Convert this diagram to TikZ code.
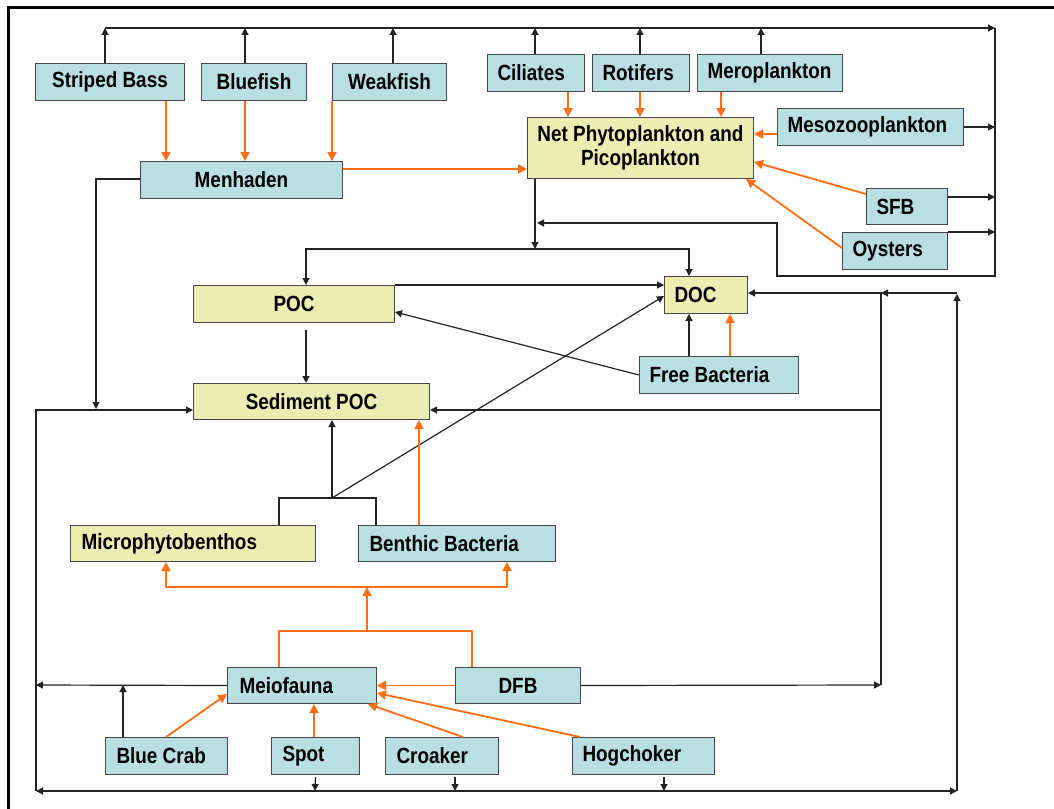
\documentclass[tikz,border=0pt]{standalone}
\usepackage{fontspec}
\newfontfamily\lab{Liberation Sans}[FakeStretch=0.86]
\usetikzlibrary{arrows.meta}
\newcommand\lbl[1]{\mbox{\spaceskip=0pt\xspaceskip=0pt\relax #1}}
\definecolor{lblue}{RGB}{185,223,227}
\definecolor{lyel}{RGB}{235,237,178}
\definecolor{bord}{RGB}{70,70,70}
\definecolor{orangeC}{RGB}{255,110,20}
\definecolor{lnc}{RGB}{35,35,35}
\begin{document}
\begin{tikzpicture}[x=1pt,y=-1pt,
  box/.style={draw=bord, line width=1pt, inner xsep=0pt, inner ysep=0pt, anchor=north west,
              font=\fontsize{22}{24}\lab\bfseries},
  bl/.style={box, fill=lblue},
  ye/.style={box, fill=lyel},
  blk/.style={draw=lnc, line width=1.2pt},
  arb/.style={blk, -{Triangle[length=7pt,width=7pt]}},
  lno/.style={draw=orangeC, line width=1.8pt, line join=round},
  aro/.style={lno, -{Triangle[length=9pt,width=9pt]}},
]
\useasboundingbox (0,0) rectangle (1054,808);
\fill[white] (0,0) rectangle (1054,808);
\draw[line width=3pt] (8,830) -- (8,8) -- (1080,8);

% nodes
\node[bl, minimum width=149pt, minimum height=37pt, align=center] (SB) at (35,63) {Striped Bass};
\node[bl, minimum width=105pt, minimum height=37pt, align=center] (BF) at (201,63) {Bluefish};
\node[bl, minimum width=114pt, minimum height=37pt, align=center] (WF) at (332,63) {Weakfish};
\node[bl, minimum width=202pt, minimum height=37pt, align=center] (MH) at (140,161) {Menhaden};
\node[bl, text width=77pt, inner xsep=10pt, align=left, minimum height=37pt] (CI) at (487,54) {\lbl{Ciliates}};
\node[bl, text width=77pt, inner xsep=10pt, align=left, minimum height=37pt] (RO) at (592,54) {\lbl{Rotifers}};
\node[bl, text width=125pt, inner xsep=10pt, align=left, minimum height=37pt] (ME) at (697,54) {\lbl{Meroplankton}};
\node[ye, minimum width=226pt, minimum height=61pt, align=center] (NP) at (527,117) {Net Phytoplankton and\\Picoplankton};
\node[bl, text width=166pt, inner xsep=10pt, align=left, minimum height=37pt] (MZ) at (777,108) {\lbl{Mesozooplankton}};
\node[bl, text width=61pt, inner xsep=10pt, align=left, minimum height=36pt] (SFB) at (866,188) {\lbl{SFB}};
\node[bl, text width=85pt, inner xsep=10pt, align=left, minimum height=37pt] (OY) at (842,232) {\lbl{Oysters}};
\node[ye, minimum width=201pt, minimum height=37pt, align=center] (POC) at (193,285) {POC};
\node[ye, text width=63pt, inner xsep=10pt, align=left, minimum height=37pt] (DOC) at (664,276) {\lbl{DOC}};
\node[bl, text width=139pt, inner xsep=10pt, align=left, minimum height=37pt] (FB) at (639,356) {\lbl{Free Bacteria}};
\node[ye, minimum width=236pt, minimum height=36pt, align=center] (SP) at (193,383) {Sediment POC};
\node[ye, text width=223pt, inner xsep=11pt, align=left, minimum height=36pt] (MP) at (70,525) {\lbl{Microphytobenthos}};
\node[bl, text width=175pt, inner xsep=11pt, align=left, minimum height=36pt] (BB) at (358,525) {\lbl{Benthic Bacteria}};
\node[bl, text width=125pt, inner xsep=12pt, align=left, minimum height=36pt] (MF) at (227,667) {\lbl{Meiofauna}};
\node[bl, minimum width=125pt, minimum height=36pt, align=center] (DFB) at (455,667) {DFB};
\node[bl, text width=100pt, inner xsep=11pt, align=left, minimum height=37pt] (BC) at (105,737) {\lbl{Blue Crab}};
\node[bl, text width=66pt, inner xsep=11pt, align=left, minimum height=37pt] (SPOT) at (271,737) {\lbl{Spot}};
\node[bl, text width=91pt, inner xsep=11pt, align=left, minimum height=37pt] (CR) at (385,737) {\lbl{Croaker}};
\node[bl, text width=122pt, inner xsep=10pt, align=left, minimum height=37pt] (HC) at (572,737) {\lbl{Hogchoker}};

% top bus
\coordinate (busL) at (105,28);
\coordinate (busR) at (995,28);
\draw[arb] (105,0 |- SB.north) -- (busL);
\draw[arb] (245,0 |- BF.north) -- (245,28);
\draw[arb] (393,0 |- WF.north) -- (393,28);
\draw[arb] (535,0 |- CI.north) -- (535,28);
\draw[arb] (640,0 |- RO.north) -- (640,28);
\draw[arb] (761,0 |- ME.north) -- (761,28);
\draw[arb] (busL) -- (busR);
\draw[arb] (MZ.east) -- (MZ.east -| busR);
\draw[arb] (0,197 -| SFB.east) -- (995,197);
\draw[arb] (OY.north east) -- (OY.north east -| busR);
\draw[arb] (busR) -- (995,276) -- (777,276) -- (777,223) -- (537,223);

% net phyto down
\coordinate (j1) at (535,249);
\draw[arb] (535,0 |- NP.south) -- (j1);
\draw[arb] (j1) -| (306,0 |- POC.north);
\draw[arb] (j1) -| (689,0 |- DOC.north);

% orange feeding (top)
\draw[aro] (166,0 |- SB.south) -- (166,0 |- MH.north);
\draw[aro] (245,0 |- BF.south) -- (245,0 |- MH.north);
\draw[aro] (332,0 |- WF.south) -- (332,0 |- MH.north);
\draw[aro] (0,169 -| MH.east) -- (0,169 -| NP.west);
\draw[aro] (568,0 |- CI.south) -- (568,0 |- NP.north);
\draw[aro] (640,0 |- RO.south) -- (640,0 |- NP.north);
\draw[aro] (721,0 |- ME.south) -- (721,0 |- NP.north);
\draw[aro] (0,134 -| MZ.west) -- (0,134 -| NP.east);
\draw[aro] (0,194 -| SFB.west) -- (0,162 -| NP.east);
\draw[aro] (0,248 -| OY.west) -- (746,0 |- NP.south);

% menhaden to sediment
\draw[arb] (0,179 -| MH.west) -- (96,179) -- (96,409);
\draw[arb] (36,791) -- (36,410) -- (0,410 -| SP.west);

% bottom line
\draw[blk, {Triangle[length=7pt,width=7pt]}-{Triangle[length=7pt,width=7pt]}] (36,791) -- (957,791);
\draw[arb, shorten <=2pt] (SPOT.south) -- (315,791);
\draw[arb, shorten <=2pt] (455,0 |- CR.south) -- (455,791);
\draw[arb, shorten <=2pt] (664,0 |- HC.south) -- (664,791);

% right side
\draw[arb] (957,791) -- (957,294);
\draw[arb] (957,293) -- (881,293);
\draw[arb] (DFB.east) -- (881,685);
\draw[arb] (881,685) -- (881,293) -- (0,293 -| DOC.east);
\draw[arb] (881,410) -- (0,410 -| SP.east);

% meiofauna / blue crab left
\draw[arb] (MF.west) -- (36,685);
\draw[arb] (123,0 |- BC.north) -- (123,685);

% free bacteria
\draw[arb] (FB.west) -- (0,312 -| POC.east);
\draw[arb] (689,0 |- FB.north) -- (689,0 |- DOC.south);
\draw[aro] (730,0 |- FB.north) -- (730,0 |- DOC.south);

% POC links
\draw[arb] (POC.north east) -- (POC.north east -| DOC.west);
\draw[arb, shorten <=7pt] (306,0 |- POC.south) -- (306,0 |- SP.north);

% benthos to sediment / DOC
\coordinate (j2) at (332,498);
\draw[blk] (279,0 |- MP.north) |- (376,498) -- (376,0 |- BB.north);
\draw[arb] (j2) -- (332,0 |- SP.south);
\draw[arb] (j2) -- (0,296 -| DOC.west);
\draw[aro] (419,0 |- BB.north) -- (419,0 |- SP.south);

% orange bottom
\coordinate (j3) at (367,631);
\coordinate (j4) at (367,587);
\draw[lno] (279,0 |- MF.north) |- (472,631) -- (472,0 |- DFB.north);
\draw[aro] (j3) -- (j4);
\draw[aro] (j4) -| (166,0 |- MP.south);
\draw[aro] (j4) -| (507,0 |- BB.south);
\draw[aro] (DFB.west) -- (MF.east);
\draw[aro] (166,0 |- BC.north) -- (0,694 -| MF.west);
\draw[aro] (314,0 |- SPOT.north) -- (314,0 |- MF.south);
\draw[aro] (463,0 |- CR.north) -- (368,0 |- MF.south);
\draw[aro] (580,0 |- HC.north) -- (0,693 -| MF.east);
\end{tikzpicture}
\end{document}
